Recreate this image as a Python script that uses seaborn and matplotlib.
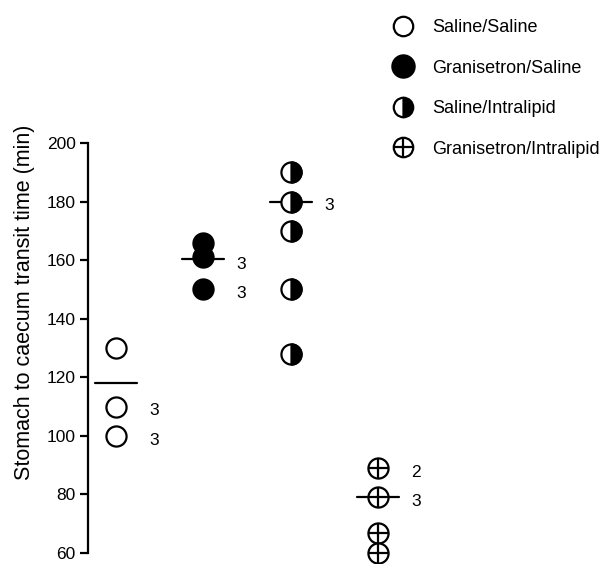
import matplotlib
matplotlib.use("Agg")
import matplotlib.pyplot as plt
from matplotlib.lines import Line2D
from matplotlib.markers import MarkerStyle
from matplotlib.legend_handler import HandlerTuple
import seaborn as sns

# Data
groups = ["Saline/Saline", "Granisetron/Saline", "Saline/Intralipid", "Granisetron/Intralipid"]
saline_saline = [130, 110, 100]
gran_saline = [166, 161, 150]
saline_lipid = [190, 180, 170, 150, 128]
gran_lipid = [89, 79, 67, 60]
group_means = [118, 160.5, 180, 79]

# (group index, value, number of animals)
count_groups = [0, 0, 1, 1, 2, 3, 3]
count_values = [110, 100, 160, 150, 180, 89, 79]
count_labels = ["3", "3", "3", "3", "3", "2", "3"]

sns.set_style("white")
plt.rcParams["font.family"] = ["Liberation Sans", "DejaVu Sans"]
plt.rcParams["text.color"] = "black"
plt.rcParams["axes.labelcolor"] = "black"
plt.rcParams["ytick.color"] = "black"

fig = plt.figure(figsize=(6.14, 5.64), dpi=100)
ax = fig.add_axes([88 / 614, 11 / 564, 512 / 614, 410 / 564])

S = 210
LW = 1.6
kw = dict(ax=ax, s=S, linewidth=LW, clip_on=False, legend=False)

# Saline/Saline - open circles
sns.scatterplot(x=[0] * len(saline_saline), y=saline_saline, marker="o",
                color="white", edgecolor="black", zorder=3, **kw)
# Granisetron/Saline - filled circles
sns.scatterplot(x=[1] * len(gran_saline), y=gran_saline, marker="o",
                color="black", edgecolor="black", zorder=3, **kw)
# Saline/Intralipid - right half filled
sns.scatterplot(x=[2] * len(saline_lipid), y=saline_lipid, marker="o",
                color="white", edgecolor="black", zorder=3, **kw)
sns.scatterplot(x=[2] * len(saline_lipid), y=saline_lipid,
                marker=MarkerStyle("o", fillstyle="right"),
                color="black", edgecolor="black", zorder=4, **kw)
# Granisetron/Intralipid - circle with cross
sns.scatterplot(x=[3] * len(gran_lipid), y=gran_lipid, marker="o",
                color="white", edgecolor="black", zorder=3, **kw)
sns.scatterplot(x=[3] * len(gran_lipid), y=gran_lipid, marker="+",
                color="black", zorder=4, **kw)

# group mean bars
for i, m in enumerate(group_means):
    ax.plot([i - 0.24, i + 0.24], [m, m], color="black", lw=LW, zorder=2)

# n labels
for g, v, t in zip(count_groups, count_values, count_labels):
    ax.text(g + 0.38, v - 1.5, t, fontsize=12.5, va="center", ha="left")

ax.set_xlim(-0.32, 5.54)
ax.set_ylim(60, 200)
ax.set_yticks([60, 80, 100, 120, 140, 160, 180, 200])
ax.set_xticks([])
for side in ["top", "right", "bottom"]:
    ax.spines[side].set_visible(False)
ax.spines["left"].set_linewidth(LW)
ax.spines["left"].set_color("black")
ax.tick_params(axis="y", left=True, length=6, width=LW, labelsize=12.5,
               pad=3, labelcolor="black", color="black")
ax.set_ylabel("Stomach to caecum transit time (min)", fontsize=15.5)
ax.yaxis.set_label_coords(-53 / 512, 0.612)
ax.patch.set_alpha(0)

# legend
ms = 14
h1 = Line2D([], [], ls="none", marker="o", ms=ms, mfc="white", mec="black", mew=LW)
h2 = Line2D([], [], ls="none", marker="o", ms=ms + 2, mfc="black", mec="black", mew=LW)
h3 = Line2D([], [], ls="none", marker="o", ms=ms, fillstyle="right",
            mfc="black", markerfacecoloralt="white", mec="black", mew=LW)
h4a = Line2D([], [], ls="none", marker="o", ms=ms, mfc="white", mec="black", mew=LW)
h4b = Line2D([], [], ls="none", marker="+", ms=ms, mec="black", mew=LW)
fig.legend([h1, h2, h3, (h4a, h4b)], groups,
           handler_map={tuple: HandlerTuple(ndivide=1)},
           loc="upper left", bbox_to_anchor=(385 / 614, 1 - 12 / 564),
           frameon=False, fontsize=13, labelspacing=1.3,
           handlelength=1.2, handletextpad=1.0, borderaxespad=0)

fig.savefig("out.png", dpi=100)
